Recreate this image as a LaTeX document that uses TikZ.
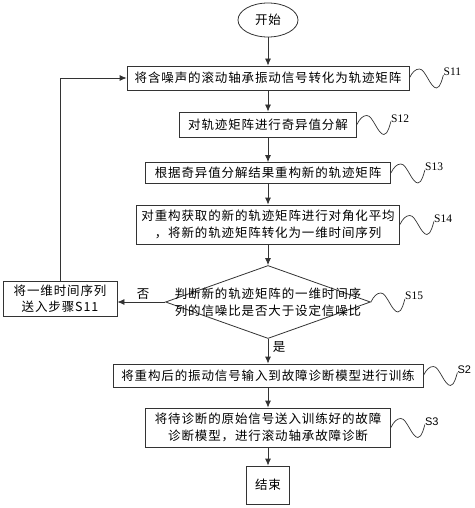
\documentclass[tikz,border=0pt]{standalone}
\usepackage{fontspec}
\setmainfont{Liberation Serif}
\newfontfamily\cjk[LetterSpace=7]{Noto Sans CJK SC}
\newfontfamily\labsans{Liberation Sans}
\usetikzlibrary{shapes.geometric,arrows.meta}
\newcommand\mywave[3]{%
  \begin{scope}[shift={(#1)}]
    \draw[wave] (0,0) .. controls (3,-6) and (6,-9) .. (10,-9)
      .. controls (16,-9) and (21,10) .. (27,10)
      .. controls (31,10) and (33,0) .. (34,-3);
    \node[#3, anchor=west, inner sep=0] at (34,-6) {#2};
  \end{scope}}
\begin{document}
\begin{tikzpicture}[x=1pt,y=-1pt,
  line/.style={draw=black!80, line width=0.8pt},
  box/.style={line, inner sep=0, align=center,
    font=\cjk\fontsize{12.5}{17}\selectfont},
  arr/.style={line, -{Latex[length=7pt,width=6pt]}},
  wave/.style={draw=black!80, line width=0.7pt},
  labserif/.style={font=\fontsize{11.5}{13}\selectfont},
  labsf/.style={font=\labsans\fontsize{11}{13}\selectfont},
  cjklab/.style={inner sep=0, font=\cjk\fontsize{12.5}{15}\selectfont}]
\useasboundingbox (0,0) rectangle (474,508);

\node[box, ellipse, minimum width=60, minimum height=34] (start) at (268,20) {开始};
\node[box, minimum width=282, minimum height=24] (s11) at (268,78) {将含噪声的滚动轴承振动信号转化为轨迹矩阵};
\node[box, minimum width=177, minimum height=25] (s12) at (268,124.5) {对轨迹矩阵进行奇异值分解};
\node[box, minimum width=245, minimum height=21] (s13) at (268,173) {根据奇异值分解结果重构新的轨迹矩阵};
\node[box, minimum width=263, minimum height=39] (s14) at (268,224.5) {对重构获取的新的轨迹矩阵进行对角化平均\\，将新的轨迹矩阵转化为一维时间序列};
\node[line, diamond, minimum width=205, minimum height=73, inner sep=0] (d) at (268,302) {};
\node[box, draw=none] (dt) at (d.center) {判断新的轨迹矩阵的一维时间序\\列的信噪比是否大于设定信噪比};
\node[box, minimum width=114, minimum height=35, font=\cjk\fontsize{12.5}{16}\selectfont] (lb) at (60,298.5) {将一维时间序列\\送入步骤S11};
\node[box, minimum width=310, minimum height=23] (s2) at (268,375.5) {将重构后的振动信号输入到故障诊断模型进行训练};
\node[box, minimum width=245, minimum height=39] (s3) at (268,427.5) {将待诊断的原始信号送入训练好的故障\\诊断模型，进行滚动轴承故障诊断};
\node[box, minimum width=43, minimum height=38] (end) at (268,485) {结束};

\draw[arr] (start.south) -- (s11.north);
\draw[arr] (s11.south) -- (s12.north);
\draw[arr] (s12.south) -- (s13.north);
\draw[arr] (s13.south) -- (s14.north);
\draw[arr] (s14.south) -- (d.north);
\draw[arr] (d.south) -- (s2.north);
\draw[arr] (s2.south) -- (s3.north);
\draw[arr] (s3.south) -- (end.north);
\draw[arr] (d.west) -- (d.west -| lb.east);
\draw[arr] (lb.north) |- (s11.west);

\node[cjklab, anchor=south] (no) at (143,300) {否};
\node[cjklab] (yes) at (279,347) {是};

\mywave{s11.east}{S11}{labserif}
\mywave{s12.east}{S12}{labserif}
\mywave{s13.east}{S13}{labserif}
\mywave{s14.east}{S14}{labserif}
\mywave{d.east}{S15}{labserif}
\mywave{s2.east}{S2}{labsf}
\mywave{s3.east}{S3}{labsf}
\end{tikzpicture}
\end{document}
